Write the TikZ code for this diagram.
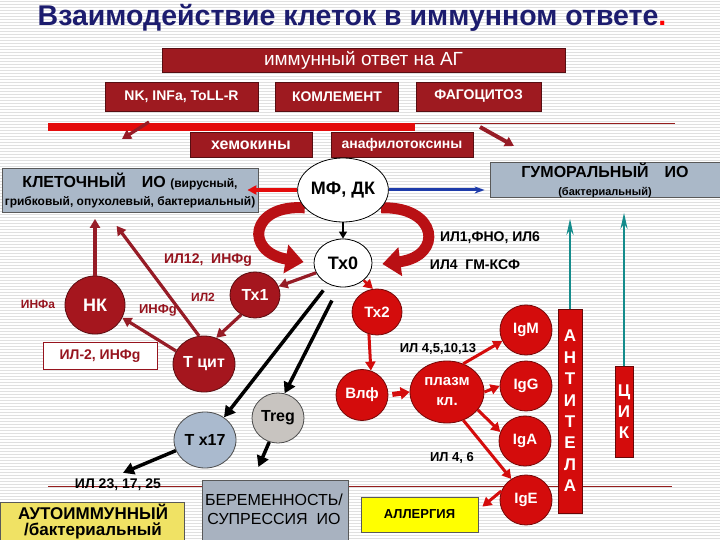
\documentclass[tikz,border=0pt]{standalone}
\usepackage{fontspec}
\setmainfont{Liberation Sans}
\usetikzlibrary{shapes.geometric,arrows.meta,calc}
\definecolor{titleblue}{RGB}{28,28,110}
\definecolor{boxred}{RGB}{158,26,32}
\definecolor{cellred}{RGB}{165,22,30}
\definecolor{brightred}{RGB}{212,12,12}
\definecolor{barred}{RGB}{228,12,12}
\definecolor{grayblue}{RGB}{170,184,200}
\definecolor{tcol}{RGB}{170,186,206}
\definecolor{tregcol}{RGB}{200,196,192}
\definecolor{bercol}{RGB}{168,178,192}
\definecolor{yel1}{RGB}{240,226,100}
\definecolor{yel2}{RGB}{255,255,0}
\definecolor{tealc}{RGB}{20,140,140}
\definecolor{bluec}{RGB}{30,60,170}
\definecolor{textred}{RGB}{150,20,30}
\definecolor{arrowred}{RGB}{150,28,38}
\definecolor{curvred}{RGB}{185,16,20}
\definecolor{linered}{RGB}{150,30,30}
\newcommand\fsz[2]{\fontsize{#1}{#2}\selectfont}
\pgfdeclarelayer{bottom}
\pgfdeclarelayer{bg}
\pgfsetlayers{bottom,bg,main}
\begin{document}
\begin{tikzpicture}[x=1pt,y=-1pt,
  stripe/.style={draw=black!12,line width=0.9pt},
  topbox/.style={rectangle,fill=boxred,draw=boxred!55!black,line width=0.8pt,text=white,inner sep=0pt,font=\bfseries\fsz{14}{16}},
  gbox/.style={rectangle,draw=black!65,line width=0.8pt,inner sep=0pt,align=center},
  cell/.style={ellipse,inner sep=0pt,line width=0.8pt,font=\bfseries\fsz{16}{18}},
  dcell/.style={cell,fill=cellred,draw=cellred!55!black,text=white},
  rcell/.style={cell,fill=brightred,draw=brightred!55!black,text=white},
  lbl/.style={inner sep=0pt,font=\bfseries\fsz{14}{16}},
  rlbl/.style={lbl,text=textred},
  darr/.style={draw=arrowred,line width=3.2pt,-{Triangle[length=9pt,width=10pt]}},
  rarr/.style={draw=brightred,line width=3pt,-{Triangle[length=9pt,width=10pt]}},
  barr/.style={draw=black,line width=3.5pt,-{Triangle[length=11pt,width=12pt]}},
  tarr/.style={draw=tealc,line width=2.2pt,-{Stealth[length=16pt,width=7pt]}},
  curv/.style={draw=curvred,line width=11pt,-{Triangle[length=18pt,width=28pt]}},
  thinred/.style={draw=linered,line width=1pt},
]
\useasboundingbox (0,0) rectangle (720,540);
\begin{pgfonlayer}{bottom}
\fill[white] (0,0) rectangle (720,540);
\foreach \yy in {1,4,...,540} \draw[stripe] (0,\yy) -- (720,\yy);
\end{pgfonlayer}

% title
\node[font=\bfseries\fsz{28.5}{31},text=titleblue,inner sep=0pt] (title) at (352,18) {Взаимодействие клеток в иммунном ответе\textcolor{red}{.}};

% top boxes
\node[topbox,minimum width=403pt,minimum height=24pt,font=\fsz{19}{20}] (immun) at (363.5,60) {иммунный ответ на АГ};
\node[topbox,minimum width=153pt,minimum height=29pt] (nkbox) at (181.5,96.5) {NK, INFa, ToLL-R};
\node[topbox,minimum width=123pt,minimum height=29pt] (kompl) at (337,96.5) {КОМЛЕМЕНТ};
\node[topbox,minimum width=125pt,minimum height=29pt] (fago) at (478.5,96.5) {ФАГОЦИТОЗ};
\node[fill=barred,minimum width=367pt,minimum height=8pt,inner sep=0pt] (bar) at (231.5,127) {};
\node[topbox,minimum width=122pt,minimum height=25pt,font=\bfseries\fsz{16}{17}] (khem) at (251,145) {хемокины};
\node[topbox,minimum width=142pt,minimum height=25pt,font=\bfseries\fsz{14}{17}] (anaf) at (402,145) {анафилотоксины};

% thin lines
\coordinate (lineE) at (675,124);
\coordinate (bl1) at (48,486);
\coordinate (bl2) at (672,486);
\begin{pgfonlayer}{bg}
\draw[thinred] (bar.east |- lineE) -- (lineE);
\draw[thinred] (bl1) -- (bl2);
\end{pgfonlayer}

% main cells
\node[cell,fill=white,draw=black,minimum width=78pt,minimum height=64pt,font=\bfseries\fsz{18}{20}] (mf) at (343,190) {МФ, ДК};
\node[cell,fill=white,draw=black,minimum width=58pt,minimum height=48pt,font=\bfseries\fsz{18}{20}] (tx0) at (343,263) {Тх0};

\node[gbox,fill=grayblue,minimum width=256pt,minimum height=44pt,font=\bfseries\fsz{16}{19}] (klet) at (130,190.5)
  {КЛЕТОЧНЫЙ\quad ИО {\fsz{12}{19}(вирусный,}\\[-1pt]{\fsz{12}{19}грибковый, опухолевый, бактериальный)}};
\node[gbox,fill=grayblue,minimum width=230pt,minimum height=34pt,font=\bfseries\fsz{16}{18}] (gumor) at (605,180)
  {ГУМОРАЛЬНЫЙ\quad ИО\\{\fsz{11}{18}(бактериальный)}};

\node[dcell,minimum width=50pt,minimum height=46pt] (tx1) at (255,295) {Тх1};
\node[dcell,minimum width=60pt,minimum height=58pt,font=\bfseries\fsz{18}{20}] (nkc) at (95,305) {НК};
\node[dcell,minimum width=62pt,minimum height=56pt] (tcit) at (204,364) {Т цит};
\node[rectangle,fill=white,draw=textred,line width=0.8pt,minimum width=114pt,minimum height=27pt,inner sep=0pt,text=textred,font=\bfseries\fsz{14}{16}] (ilbox) at (100,356) {ИЛ-2, ИНФg};
\node[cell,fill=tcol,draw=black!70,minimum width=62pt,minimum height=56pt,font=\fsz{16}{18}\bfseries] (tx17) at (205,440) {Т x17};
\node[cell,fill=tregcol,draw=black!70,minimum width=52pt,minimum height=50pt,font=\fsz{16}{18}\bfseries] (treg) at (278,418) {Treg};

\node[rcell,minimum width=50pt,minimum height=46pt,font=\bfseries\fsz{15}{17}] (tx2) at (377,312) {Тх2};
\node[rcell,minimum width=52pt,minimum height=51pt,font=\bfseries\fsz{15}{17}] (vlf) at (362,395) {Влф};
\node[rcell,minimum width=74pt,minimum height=62pt,align=center,font=\bfseries\fsz{15}{20}] (plazm) at (447,392) {плазм\\кл.};
\node[rcell,minimum width=52pt,minimum height=50pt,font=\bfseries\fsz{15}{17}] (igm) at (526,330) {IgM};
\node[rcell,minimum width=52pt,minimum height=50pt,font=\bfseries\fsz{15}{17}] (igg) at (526,386) {IgG};
\node[rcell,minimum width=52pt,minimum height=50pt,font=\bfseries\fsz{15}{17}] (iga) at (525,441) {IgA};
\node[rcell,minimum width=52pt,minimum height=50pt,font=\bfseries\fsz{15}{17}] (ige) at (526,500) {IgE};

\node[rectangle,fill=brightred,draw=brightred!50!black,line width=0.8pt,minimum width=24pt,minimum height=204pt,inner sep=0pt,text=white,align=center,font=\bfseries\fsz{17}{21.4}] (antitela) at (570,411) {А\\Н\\Т\\И\\Т\\Е\\Л\\А};
\node[rectangle,fill=brightred,draw=brightred!50!black,line width=0.8pt,minimum width=18pt,minimum height=91pt,inner sep=0pt,text=white,align=center,font=\bfseries\fsz{17}{21}] (cik) at (624,411.5) {Ц\\И\\К};

% bottom boxes
\node[gbox,fill=yel1,minimum width=184pt,minimum height=46pt,anchor=north west] (autoimm) at (0,502) {};
\node[font=\bfseries\fsz{17}{16},align=center,inner sep=0pt] (autotext) at (93,522) {АУТОИММУННЫЙ\\/бактериальный};
\node[gbox,fill=bercol,minimum width=146pt,minimum height=68pt,anchor=north west] (beremen) at (202,480) {};
\node[font=\fsz{16}{19},align=center,inner sep=0pt] (bertext) at (274,509) {БЕРЕМЕННОСТЬ/\\СУПРЕССИЯ\ \ ИО};
\node[gbox,fill=yel2,minimum width=117pt,minimum height=35pt,font=\bfseries\fsz{13}{15}] (allerg) at (419.5,514.5) {АЛЛЕРГИЯ};

% labels
\node[lbl] (il1) at (490,238) {ИЛ1,ФНО, ИЛ6};
\node[lbl] (il4gm) at (475,265) {ИЛ4\ \ ГМ-КСФ};
\node[rlbl] (il12) at (208,260) {ИЛ12,\ \ ИНФg};
\node[rlbl,font=\bfseries\fsz{12}{14}] (il2) at (203,297) {ИЛ2};
\node[rlbl,font=\bfseries\fsz{13}{15}] (infg) at (158,310) {ИНФg};
\node[rlbl,font=\bfseries\fsz{12}{14}] (infa) at (38,304) {ИНФа};
\node[lbl] (il23) at (118,485) {ИЛ 23, 17, 25};
\node[lbl,font=\bfseries\fsz{13}{15}] (il4510) at (438,349) {ИЛ 4,5,10,13};
\node[lbl,font=\bfseries\fsz{13}{15}] (il46) at (452,458) {ИЛ 4, 6};

% coordinates for free ends
\coordinate (la1) at (149,122);
\coordinate (la2) at (122,139);
\coordinate (ra1) at (480,127);
\coordinate (ra2) at (514,146);
\coordinate (nktip) at ($(klet.south west)+(93,6)$);
\coordinate (tctip) at ($(klet.south west)+(115,13)$);
\coordinate (il23tip) at ($(il23.north)+(5,-6)$);
\coordinate (bertip) at ($(beremen.north)+(-17,-13)$);
\coordinate (alltip) at ($(allerg.north east)+(4,10)$);
\coordinate (atip) at ($(gumor.south west)+(80,21)$);
\coordinate (ctip) at ($(gumor.south west)+(134,15)$);

% curved arrows
\begin{pgfonlayer}{bg}
\draw[curv] (mf.205) .. controls (250,204) and (244,252) .. ($(tx0.west)+(-10,-1)$);
\draw[curv] (mf.-25) .. controls (438,206) and (444,256) .. ($(tx0.east)+(10,1)$);
\end{pgfonlayer}

% connectors
\draw[darr] (la1) -- (la2);
\draw[darr,line width=4pt] (ra1) -- (ra2);
\draw[draw=barred,line width=4pt,-{Triangle[length=9pt,width=9pt]}] (mf.west) -- ([xshift=-11pt]klet.east |- mf.west);
\draw[draw=bluec,line width=3pt,-{Stealth[length=10pt,width=7pt]}] (mf.east) -- ([xshift=-5pt]gumor.west |- mf.east);
\draw[draw=black,line width=1.2pt,-{Triangle[length=7pt,width=8pt]}] (mf.south) -- (tx0.north);
\draw[darr] (tx0.200) -- (tx1.20);
\draw[darr] (tx1.235) -- (tcit.65);
\draw[darr] (tcit.100) -- (tctip);
\draw[darr] (nkc.north) -- (nkc.north |- nktip);
\draw[darr] (tcit.155) -- (nkc.-25);
\draw[rarr,line width=2.5pt] (tx0.-40) -- (tx2.100);
\draw[rarr] (tx2.250) -- (vlf.70);
\draw[rarr,line width=5pt,shorten <=4pt,-{Triangle[length=9pt,width=12pt]}] (vlf.east) -- (plazm.west);
\draw[rarr] (plazm.60) -- (igm.205);
\draw[rarr] (plazm.east) -- (igg.west);
\draw[rarr] (plazm.-30) -- (iga.160);
\draw[rarr] (plazm.-60) -- (ige.125);
\draw[rarr] (ige.160) -- (alltip);
\draw[barr,shorten <=8pt] (tx0.235) -- (tx17.50);
\draw[barr,shorten <=15pt] (tx0.260) -- (treg.75);
\draw[barr] (tx17.200) -- (il23tip);
\draw[barr] (treg.250) -- (bertip);
\draw[tarr] (antitela.north) -- (antitela.north |- atip);
\draw[tarr] (cik.north) -- (cik.north |- ctip);
\end{tikzpicture}
\end{document}
